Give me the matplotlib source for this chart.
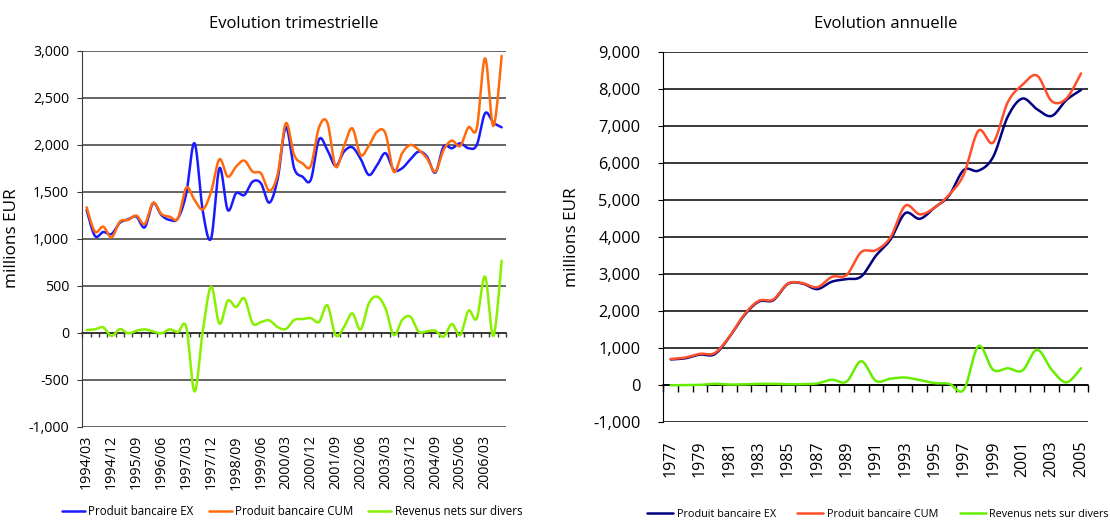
import numpy as np
import matplotlib
matplotlib.use("Agg")
import matplotlib.pyplot as plt
from matplotlib.ticker import FuncFormatter

plt.rcParams['font.family'] = ['Open Sans', 'DejaVu Sans']

# quarterly figures, 1994/03 .. 2006/09 (millions EUR)
quarters = [f"{y}/{m:02d}" for y in range(1994, 2007) for m in (3, 6, 9, 12)][:51]
ex_q = [1306, 1029, 1071, 1049, 1170, 1206, 1234, 1121, 1376, 1252,
        1199, 1217, 1480, 2015, 1290, 1004, 1750, 1305, 1483, 1465,
        1607, 1589, 1383, 1630, 2185, 1749, 1660, 1625, 2057, 1944,
        1774, 1926, 1972, 1850, 1678, 1784, 1910, 1731, 1749, 1844,
        1926, 1873, 1703, 1979, 1962, 2015, 1962, 1997, 2334, 2235,
        2185]
cum_q = [1334, 1075, 1128, 1014, 1181, 1199, 1245, 1156, 1383, 1263,
         1234, 1217, 1543, 1412, 1312, 1500, 1844, 1660, 1766, 1830,
         1713, 1695, 1511, 1680, 2228, 1891, 1802, 1774, 2185, 2235,
         1766, 1985, 2174, 1890, 1990, 2139, 2120, 1713, 1908, 1997,
         1944, 1855, 1713, 1944, 2043, 1986, 2185, 2174, 2919, 2199,
         2944]
rev_q = [28, 35, 57, -35, 39, -7, 21, 35, 14, -7,
         35, 7, 60, -625, 20, 490, 96, 340, 273, 365,
         100, 113, 131, 60, 40, 135, 145, 155, 115, 291,
         -28, 60, 206, 35, 312, 383, 259, -25, 135, 170,
         11, 15, 21, -43, 92, -25, 234, 152, 596, -35,
         766]

# annual figures, 1977 .. 2005 (millions EUR)
years = list(range(1977, 2006))
ex_a = [700, 730, 830, 840, 1300, 1880, 2260, 2300, 2740, 2750,
        2600, 2800, 2870, 2940, 3500, 3940, 4650, 4500, 4800, 5130,
        5820, 5800, 6170, 7260, 7750, 7460, 7280, 7710, 7980]
cum_a = [710, 750, 850, 870, 1310, 1900, 2280, 2320, 2750, 2760,
         2650, 2930, 2980, 3600, 3650, 4000, 4850, 4620, 4800, 5150,
         5700, 6880, 6560, 7650, 8120, 8370, 7680, 7750, 8430]
rev_a = [0, 5, 10, 40, 20, 25, 40, 40, 30, 30,
         50, 150, 100, 650, 120, 180, 210, 140, 60, 40,
         -120, 1060, 420, 460, 400, 960, 420, 80, 460]

series_names = ["Produit bancaire EX", "Produit bancaire CUM", "Revenus nets sur divers"]


def smooth(values, n=24):
    # Bezier smoothing through every point (same scheme as spreadsheet "smoothed line")
    pts = np.column_stack([np.arange(len(values), dtype=float), np.asarray(values, float)])
    p = np.vstack([pts[0], pts, pts[-1]])
    t = np.linspace(0, 1, n)[:, None]
    out = []
    for i in range(1, len(p) - 2):
        p0, p1, p2, p3 = p[i - 1], p[i], p[i + 1], p[i + 2]
        b1 = p1 + (p2 - p0) / 6
        b2 = p2 - (p3 - p1) / 6
        seg = (1 - t) ** 3 * p1 + 3 * (1 - t) ** 2 * t * b1 + 3 * (1 - t) * t ** 2 * b2 + t ** 3 * p2
        out.append(seg if i == 1 else seg[1:])
    c = np.vstack(out)
    return c[:, 0], c[:, 1]


def draw_panel(ax, labels, series, colors, ylim, ystep, label_every, grid_color,
               xtick_fs, ytick_fs, xpad, ypad, zero_tick_len, lw=1.8):
    n = len(labels)
    for vals, col, name in zip(series, colors, series_names):
        xs, ys = smooth(vals)
        ax.plot(xs, ys, color=col, lw=lw, label=name, solid_capstyle='round')

    ax.set_xlim(-0.5, n - 0.5)
    ax.set_ylim(*ylim)
    ax.set_yticks(np.arange(ylim[0], ylim[1] + 1, ystep))
    ax.yaxis.set_major_formatter(FuncFormatter(lambda v, p: f"{v:,.0f}"))
    ax.yaxis.grid(True, color=grid_color, lw=1.1)
    ax.set_axisbelow(True)

    ax.set_xticks(range(0, n, label_every))
    ax.set_xticklabels(labels[::label_every], rotation=90, fontsize=xtick_fs)
    ax.tick_params(axis='x', length=0, pad=xpad)
    ax.tick_params(axis='y', direction='out', length=3.5, color=grid_color,
                   labelsize=ytick_fs, pad=ypad)

    for side in ('top', 'right', 'bottom'):
        ax.spines[side].set_visible(False)
    ax.spines['left'].set_color(grid_color)

    # category axis crossing at zero with a tick between every category
    zero_pos = (0 - ylim[0]) / (ylim[1] - ylim[0])
    sec = ax.secondary_xaxis(zero_pos)
    sec.set_xticks(np.arange(-0.5, n, 1.0))
    sec.tick_params(direction='out', length=zero_tick_len, width=1, color=grid_color,
                    labelbottom=False, labeltop=False)
    for sp in sec.spines.values():
        sp.set_color('black')
        sp.set_linewidth(1.1)


fig = plt.figure(figsize=(11.1, 5.24), dpi=100)
fig.patch.set_facecolor('white')

ax1 = fig.add_axes([0.0743, 0.1857, 0.3814, 0.7176])
draw_panel(ax1, quarters, [ex_q, cum_q, rev_q], ['#1a1aff', '#ff6a0d', '#88f000'],
           (-1000, 3000), 500, 3, '#3a3a3a', 10.3, 10.2, 6, 6, 3)
ax1.set_ylabel("millions EUR", fontsize=12.3)
ax1.yaxis.set_label_coords(-0.148, 0.5)
ax1.legend(loc='center', bbox_to_anchor=(0.495, -0.226), ncol=3, frameon=False,
           fontsize=8.3, handlelength=2.0, handletextpad=0.3, columnspacing=1.3)
fig.text(0.265, 0.955, "Evolution trimestrielle", ha='center', va='center', fontsize=12)

ax2 = fig.add_axes([0.5976, 0.1941, 0.3829, 0.7061])
draw_panel(ax2, [str(y) for y in years], [ex_a, cum_a, rev_a], ['#000080', '#ff4f2a', '#66ee00'],
           (-1000, 9000), 1000, 2, '#000000', 11.5, 11.8, 13, 13, 5)
ax2.set_ylabel("millions EUR", fontsize=12.3)
ax2.yaxis.set_label_coords(-0.196, 0.5)
ax2.legend(loc='center', bbox_to_anchor=(0.505, -0.248), ncol=3, frameon=False,
           fontsize=7.8, handlelength=2.4, handletextpad=0.3, columnspacing=2.0)
fig.text(0.798, 0.955, "Evolution annuelle", ha='center', va='center', fontsize=12)

fig.savefig("out.png", dpi=100)
